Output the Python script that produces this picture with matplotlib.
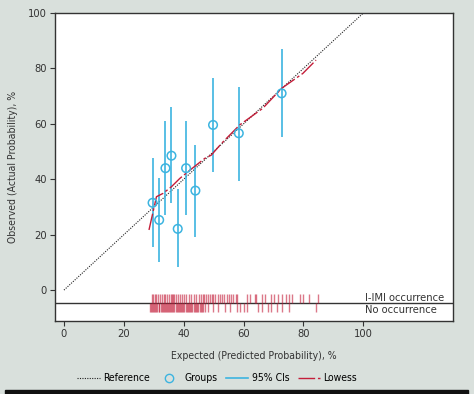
import matplotlib.pyplot as plt
from matplotlib.lines import Line2D
from matplotlib.patches import Rectangle

BG = "#d9e0dc"
BLUE = "#3cb4e0"
RED = "#c41e3a"
DARK = "#333333"

# grouped calibration points
group_x = [29.6, 31.8, 33.9, 35.9, 38.0, 40.8, 43.9, 49.8, 58.4, 72.7]
group_y = [31.5, 25.3, 44.0, 48.5, 22.1, 44.0, 35.9, 59.6, 56.6, 71.0]
ci_low = [15.6, 10.0, 27.0, 31.3, 8.2, 27.1, 19.2, 42.5, 39.5, 55.4]
ci_high = [47.5, 40.3, 61.0, 66.2, 36.3, 61.0, 52.3, 76.4, 73.4, 86.9]

# lowess curve
lowess_x = [28.4, 30.9, 33.1, 35.9, 38.7, 41.4, 44.2, 47.0, 49.2, 52.6, 58.7, 66.4, 72.7, 79.8, 84.2]
lowess_y = [21.7, 33.7, 34.9, 37.3, 40.3, 42.7, 45.1, 47.5, 48.7, 52.9, 59.6, 65.6, 72.8, 78.2, 83.0]

# rug: predicted probability of each cow
occ_x = [29.3, 29.8, 30.4, 30.9, 31.5, 32.2, 32.8, 33.4, 33.9, 34.5, 35.0, 35.6, 36.0, 36.3,
         36.8, 37.4, 38.1, 38.8, 39.4, 40.2, 40.9, 41.6, 42.5, 43.4, 44.1, 45.0, 45.9, 46.3,
         46.8, 47.4, 48.0, 48.7, 49.3, 49.9, 50.6, 51.3, 52.0, 52.8, 53.6, 54.3, 55.1, 55.9,
         56.6, 57.4, 57.8, 61.0, 62.0, 63.9, 64.3, 66.1, 67.2, 69.3, 70.1, 71.5, 72.9, 74.1,
         75.3, 76.3, 78.7, 79.7, 82.0, 84.7]
no_x = [28.7, 29.0, 29.4, 29.8, 30.1, 30.5, 30.8, 31.2, 31.6, 31.9, 32.3, 32.6, 33.0, 33.3,
        33.7, 34.0, 34.4, 34.8, 35.1, 35.5, 35.8, 36.2, 36.5, 36.9, 37.3, 37.6, 38.0, 38.4,
        38.7, 39.1, 39.5, 39.8, 40.2, 40.6, 41.0, 41.3, 41.7, 42.1, 42.5, 42.9, 43.3, 43.7,
        44.1, 44.5, 44.9, 45.3, 45.7, 46.1, 46.5, 47.0, 48.0, 49.7, 51.3, 53.7, 55.3, 57.7,
        58.7, 60.3, 61.3, 64.7, 66.3, 68.0, 69.3, 71.3, 72.7, 75.3, 84.3]

plt.rcParams["font.family"] = ["DejaVu Sans"]
plt.rcParams["font.stretch"] = "condensed"
plt.rcParams["font.size"] = 7.5

fig = plt.figure(figsize=(4.74, 3.94), dpi=100, facecolor=BG)
ax = fig.add_axes([0.116, 0.185, 0.84, 0.782])
ax.set_facecolor("white")

# reference diagonal
ax.plot([0, 100], [0, 100], color="#222222", linestyle=(0, (1, 1.2)), linewidth=0.8)

# 95% CIs and group circles
ax.vlines(group_x, ci_low, ci_high, color=BLUE, linewidth=1.2)
ax.scatter(group_x, group_y, s=38, facecolors="none", edgecolors=BLUE, linewidths=1.1, zorder=3)

# lowess
ax.plot(lowess_x, lowess_y, color=RED, linewidth=1.0, dashes=(12, 2, 2, 2))

# rug and separator
ax.axhline(-4.7, color=DARK, linewidth=1.0)
ax.vlines(occ_x, -1.4, -4.7, color=RED, linewidth=1.0, alpha=0.6)
ax.vlines(no_x, -4.7, -8.0, color=RED, linewidth=1.0, alpha=0.6)
ax.text(100.5, -2.9, "I-IMI occurrence", color=DARK, fontsize=8, va="center", ha="left")
ax.text(100.5, -7.2, "No occurrence", color=DARK, fontsize=8, va="center", ha="left")

ax.set_xlim(-3, 130)
ax.set_ylim(-11.2, 100)
ax.set_xticks([0, 20, 40, 60, 80, 100])
ax.set_yticks([0, 20, 40, 60, 80, 100])
ax.tick_params(colors=DARK, length=3.5, width=0.8, pad=2.5, labelsize=8)
for s in ax.spines.values():
    s.set_color(DARK)
    s.set_linewidth(1.0)

ax.set_xlabel("Expected (Predicted Probability), %", color=DARK, labelpad=8)
ax.set_ylabel("Observed (Actual Probability), %", color=DARK, labelpad=7)

handles = [
    Line2D([0], [0], color="#222222", linestyle=(0, (1, 1.2)), linewidth=0.8, label="Reference"),
    Line2D([0], [0], marker="o", linestyle="", markerfacecolor="none", markeredgecolor=BLUE,
           markersize=6, label="Groups"),
    Line2D([0], [0], color=BLUE, linewidth=1.2, label="95% CIs"),
    Line2D([0], [0], color=RED, linewidth=1.0, dashes=(12, 2, 2, 2), label="Lowess"),
]
fig.legend(handles=handles, loc="center", bbox_to_anchor=(0.458, 0.04), ncol=4, frameon=False,
           handlelength=2.2, columnspacing=0.8, handletextpad=0.3)

fig.patches.append(Rectangle((0.01, 0.0), 0.978, 0.009, transform=fig.transFigure,
                             color="#111111", zorder=0))

fig.savefig("out.png", dpi=100, facecolor=BG)
